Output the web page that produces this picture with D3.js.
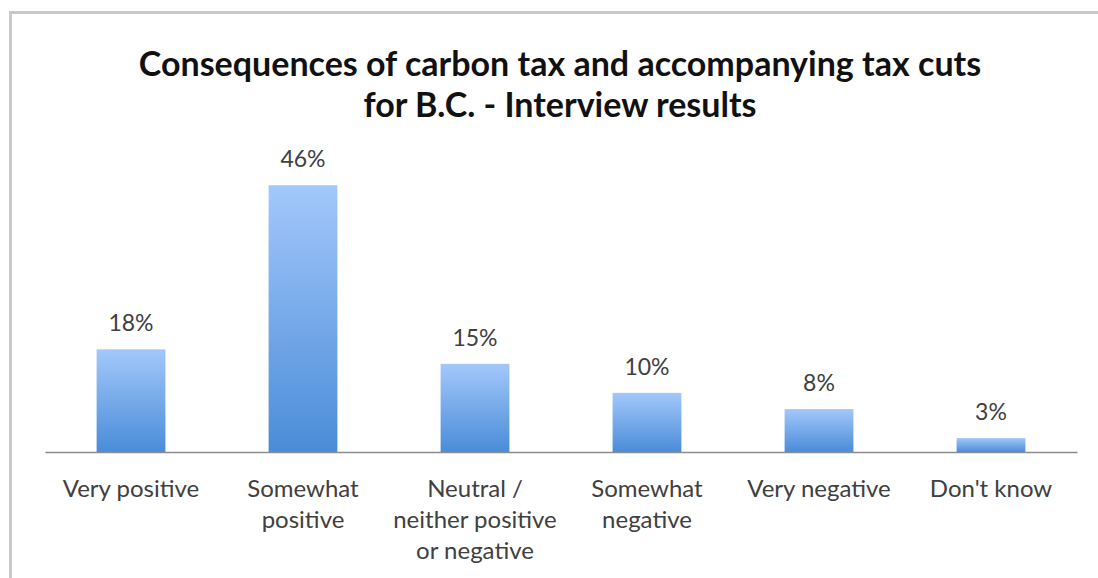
<!DOCTYPE html>
<html>
<head>
<meta charset="utf-8">
<script src="https://cdn.jsdelivr.net/npm/d3@7"></script>
<style>
html,body{margin:0;padding:0;background:#fff;}
svg{display:block;}
</style>
</head>
<body>
<script>
const titleLines = ["Consequences of carbon tax and accompanying tax cuts", "for B.C. - Interview results"];
const categories = ["Very positive", "Somewhat positive", "Neutral / neither positive or negative", "Somewhat negative", "Very negative", "Don't know"];
const categoryLines = [["Very positive"], ["Somewhat", "positive"], ["Neutral /", "neither positive", "or negative"], ["Somewhat", "negative"], ["Very negative"], ["Don't know"]];
const values = [17.7, 46, 15.2, 10.2, 7.4, 2.4];
const valueLabels = ["18%", "46%", "15%", "10%", "8%", "3%"];

const W = 1098, H = 578;
const svg = d3.select("body").append("svg").attr("width", W).attr("height", H);

const defs = svg.append("defs");
const grad = defs.append("linearGradient").attr("id", "barGrad")
  .attr("x1", 0).attr("y1", 0).attr("x2", 0).attr("y2", 1);
grad.append("stop").attr("offset", "0%").attr("stop-color", "#a3c8fb");
grad.append("stop").attr("offset", "100%").attr("stop-color", "#4a8cd8");

// outer frame
svg.append("rect").attr("x", 10.5).attr("y", 12.5).attr("width", W + 20).attr("height", H + 20)
  .attr("fill", "none").attr("stroke", "#c8c8c8").attr("stroke-width", 3);

// title
svg.append("g").selectAll("text").data(titleLines).join("text")
  .attr("x", 560).attr("y", (d, i) => 76 + i * 41)
  .attr("text-anchor", "middle")
  .attr("font-family", "Lato, 'Open Sans', sans-serif")
  .attr("font-weight", "bold")
  .attr("font-size", 34)
  .attr("fill", "#111")
  .text(d => d);

const x = d3.scaleBand().domain(categories).range([45, 1077]).padding(0);
const y = d3.scaleLinear().domain([0, 50]).range([452, 162]);
const barW = x.bandwidth() * 0.4;

// bars
svg.append("g").selectAll("rect").data(values).join("rect")
  .attr("x", (d, i) => x(categories[i]) + (x.bandwidth() - barW) / 2)
  .attr("y", d => y(d))
  .attr("width", barW)
  .attr("height", d => y(0) - y(d))
  .attr("fill", "url(#barGrad)");

// axis
const axis = svg.append("g").attr("transform", `translate(0,${y(0)})`)
  .call(d3.axisBottom(x).tickSize(0).tickFormat(""));
axis.select(".domain").attr("stroke", "#8c8c8c").attr("stroke-width", 1.5);

// value labels
svg.append("g").selectAll("text").data(values).join("text")
  .attr("x", (d, i) => x(categories[i]) + x.bandwidth() / 2)
  .attr("y", d => y(d) - 18)
  .attr("text-anchor", "middle")
  .attr("font-family", "Lato, 'Open Sans', sans-serif")
  .attr("font-size", 23)
  .attr("fill", "#404040")
  .text((d, i) => valueLabels[i]);

// category labels
const cg = svg.append("g").selectAll("text").data(categoryLines).join("text")
  .attr("text-anchor", "middle")
  .attr("font-family", "Lato, 'Open Sans', sans-serif")
  .attr("font-size", 24)
  .attr("fill", "#404040");
cg.each(function(lines, i) {
  const cx = x(categories[i]) + x.bandwidth() / 2;
  d3.select(this).selectAll("tspan").data(lines).join("tspan")
    .attr("x", cx).attr("y", (d, j) => 497 + j * 31).text(d => d);
});
</script>
</body>
</html>
